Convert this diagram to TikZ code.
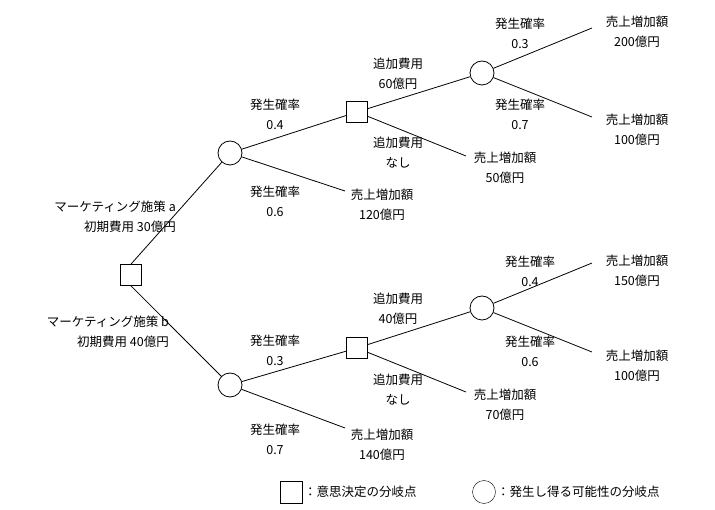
\documentclass[tikz,border=0pt]{standalone}
\usepackage{fontspec}
\setmainfont{Noto Sans CJK JP}
\begin{document}
\begin{tikzpicture}[x=1pt,y=-1pt,
 dec/.style={draw,thick,minimum size=21pt,inner sep=0pt},
 ch/.style={draw,thick,circle,minimum size=24pt,inner sep=0pt},
 lab/.style={align=center,font=\fontsize{12.5}{20}\selectfont,inner sep=1pt},
 br/.style={thick}]
\useasboundingbox (0,0) rectangle (715,510);
\node[dec] (r) at (131,275) {};
\node[ch] (c1) at (230,153) {};
\node[ch] (c2) at (230,385) {};
\node[dec] (d1) at (357,112) {};
\node[dec] (d2) at (357,348) {};
\node[ch] (e1) at (482,73) {};
\node[ch] (e2) at (482,308) {};
\coordinate (t1) at (592,28);
\coordinate (t2) at (592,117);
\coordinate (t3) at (466,156);
\coordinate (t4) at (345,191);
\coordinate (t5) at (592,263);
\coordinate (t6) at (592,352);
\coordinate (t7) at (466,392);
\coordinate (t8) at (345,428);
\draw[br] (r.north) -- (c1); \draw[br] (r.south) -- (c2);
\draw[br] (c1) -- (d1); \draw[br] (c1) -- (t4);
\draw[br] (d1) -- (e1); \draw[br] (d1) -- (t3);
\draw[br] (e1) -- (t1); \draw[br] (e1) -- (t2);
\draw[br] (c2) -- (d2); \draw[br] (c2) -- (t8);
\draw[br] (d2) -- (e2); \draw[br] (d2) -- (t7);
\draw[br] (e2) -- (t5); \draw[br] (e2) -- (t6);
\node[lab,align=right,anchor=east] (la) at (177,217) {マーケティング施策 a\\初期費用 30億円};
\node[lab,align=right,anchor=east] (lb) at (170,332) {マーケティング施策 b\\初期費用 40億円};
\node[lab] (p1) at (275,114) {発生確率\\0.4};
\node[lab] (p2) at (275,201) {発生確率\\0.6};
\node[lab] (a1) at (398,74) {追加費用\\60億円};
\node[lab] (a2) at (398,153) {追加費用\\なし};
\node[lab] (q1) at (520,33) {発生確率\\0.3};
\node[lab] (q2) at (520,114) {発生確率\\0.7};
\node[lab] (s1) at (637,32) {売上増加額\\200億円};
\node[lab] (s2) at (637,130) {売上増加額\\100億円};
\node[lab] (s3) at (505,168) {売上増加額\\50億円};
\node[lab] (s4) at (382,205) {売上増加額\\120億円};
\node[lab] (p3) at (275,350) {発生確率\\0.3};
\node[lab] (p4) at (275,439) {発生確率\\0.7};
\node[lab] (a3) at (398,309) {追加費用\\40億円};
\node[lab] (a4) at (398,390) {追加費用\\なし};
\node[lab] (q3) at (530,271) {発生確率\\0.4};
\node[lab] (q4) at (530,351) {発生確率\\0.6};
\node[lab] (s5) at (637,271) {売上増加額\\150億円};
\node[lab] (s6) at (637,366) {売上増加額\\100億円};
\node[lab] (s7) at (505,405) {売上増加額\\70億円};
\node[lab] (s8) at (382,445) {売上増加額\\140億円};
\node[dec,thin,minimum size=22pt] (lg1) at (291,492) {};
\node[lab,anchor=west] (lt1) at (303,492) {：意思決定の分岐点};
\node[ch,thin,minimum size=23pt] (lg2) at (484,492) {};
\node[lab,anchor=west] (lt2) at (496,492) {：発生し得る可能性の分岐点};
\end{tikzpicture}
\end{document}
